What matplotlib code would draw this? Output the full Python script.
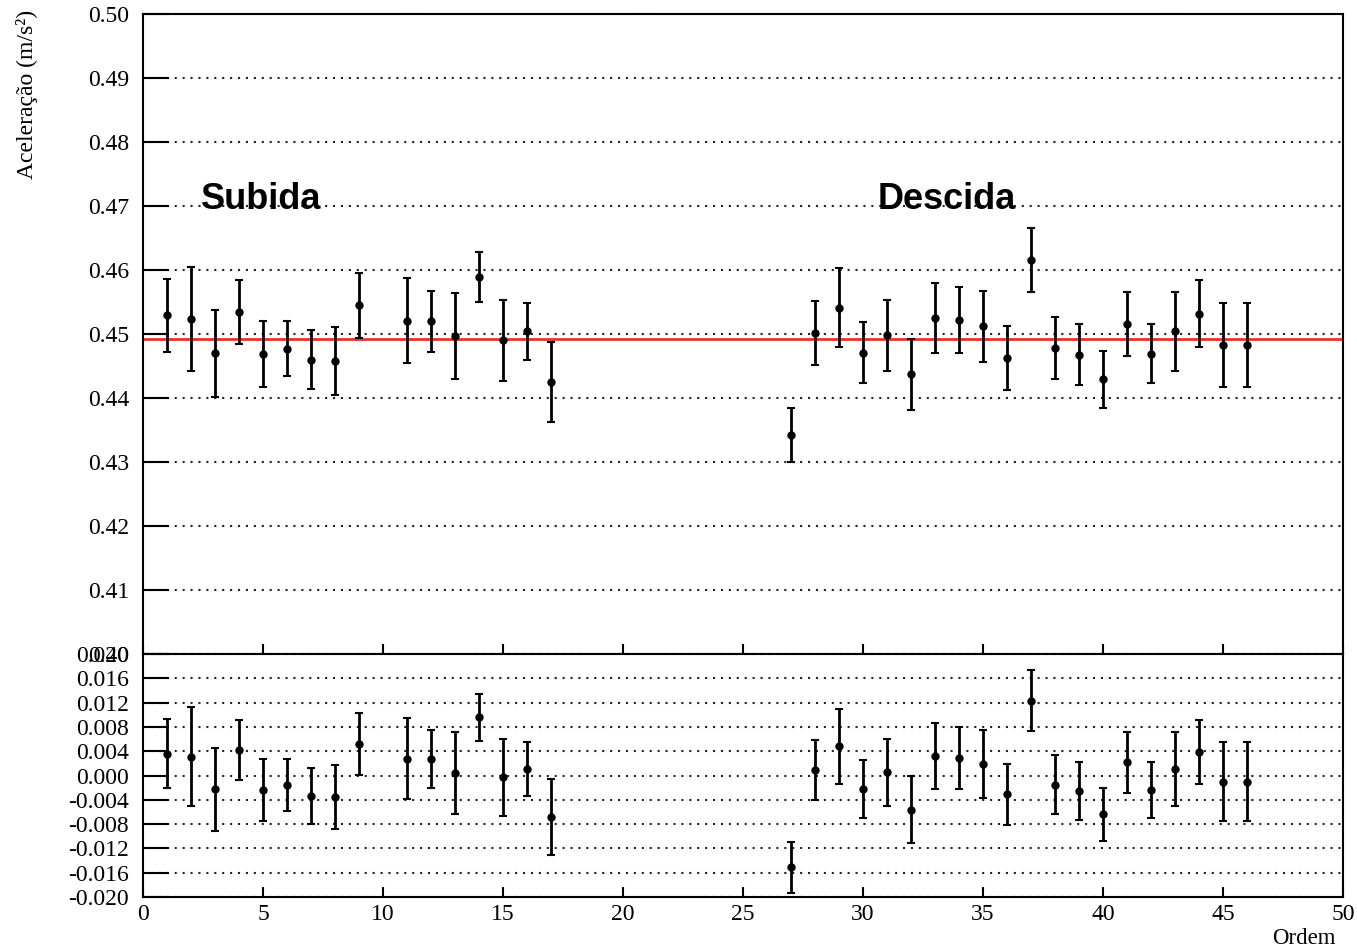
import numpy as np
import matplotlib
matplotlib.use("Agg")
import matplotlib.pyplot as plt
import matplotlib.ticker as ticker
from matplotlib import rcParams

# dados
ordem_subida = [1, 2, 3, 4, 5, 6, 7, 8, 9, 11, 12, 13, 14, 15, 16, 17]
acel_subida = [0.4529, 0.4524, 0.4470, 0.4535, 0.4469, 0.4477, 0.4460, 0.4458,
               0.4545, 0.4521, 0.4520, 0.4497, 0.4589, 0.4490, 0.4504, 0.4425]
erro_subida = [0.0057, 0.0081, 0.0068, 0.0050, 0.0051, 0.0043, 0.0046, 0.0053,
               0.0051, 0.0067, 0.0048, 0.0067, 0.0039, 0.0063, 0.0045, 0.0063]

ordem_descida = list(range(27, 47))
acel_descida = [0.4342, 0.4502, 0.4541, 0.4471, 0.4498, 0.4437, 0.4525, 0.4522,
                0.4512, 0.4462, 0.4616, 0.4478, 0.4468, 0.4429, 0.4515, 0.4469,
                0.4504, 0.4532, 0.4483, 0.4483]
erro_descida = [0.0042, 0.0050, 0.0062, 0.0048, 0.0055, 0.0055, 0.0054, 0.0051,
                0.0056, 0.0050, 0.0050, 0.0048, 0.0048, 0.0044, 0.0050, 0.0046,
                0.0061, 0.0053, 0.0065, 0.0065]

media = 0.4493

rcParams['font.family'] = 'Liberation Serif'
rcParams['axes.unicode_minus'] = False
rcParams['axes.linewidth'] = 1.5

ordem = np.array(ordem_subida + ordem_descida)
acel = np.array(acel_subida + acel_descida)
erro = np.array(erro_subida + erro_descida)
resid = acel - media

fig = plt.figure(figsize=(13.57, 9.49), dpi=100)
ax1 = fig.add_axes([0.1054, 0.3108, 0.8843, 0.6744])
ax2 = fig.add_axes([0.1054, 0.0548, 0.8843, 0.2560])

grid_kw = dict(color='#222222', lw=1.5, ls=(0, (1, 2.8)))
eb_kw = dict(fmt='o', color='black', ms=5, elinewidth=2, capsize=3, capthick=1.5)

# painel superior
ax1.errorbar(ordem, acel, yerr=erro, zorder=3, **eb_kw)
ax1.axhline(media, color='#e8322c', lw=2, zorder=2)
ax1.set_xlim(0, 50)
ax1.set_ylim(0.40, 0.50)
ax1.yaxis.set_major_locator(ticker.MultipleLocator(0.01))
ax1.yaxis.set_major_formatter(ticker.FormatStrFormatter('%.2f'))
ax1.xaxis.set_major_locator(ticker.MultipleLocator(5))
ax1.yaxis.grid(True, **grid_kw)
ax1.tick_params(axis='y', direction='in', length=19, width=1.5, labelsize=17, pad=10)
ax1.tick_params(axis='x', direction='in', length=7, width=1.5, labelbottom=False)
ax1.text(2.4, 0.4695, 'Subida', family='Liberation Sans', weight='bold', fontsize=26)
ax1.text(30.6, 0.4695, 'Descida', family='Liberation Sans', weight='bold', fontsize=26)

# residuos
ax2.errorbar(ordem, resid, yerr=erro, zorder=3, **eb_kw)
ax2.set_xlim(0, 50)
ax2.set_ylim(-0.020, 0.020)
ax2.yaxis.set_major_locator(ticker.MultipleLocator(0.004))
ax2.yaxis.set_major_formatter(ticker.FormatStrFormatter('%.3f'))
ax2.xaxis.set_major_locator(ticker.MultipleLocator(5))
ax2.yaxis.grid(True, **grid_kw)
ax2.tick_params(axis='y', direction='in', length=19, width=1.5, labelsize=17, pad=10)
ax2.tick_params(axis='x', direction='in', length=7, width=1.5, labelsize=17, pad=5)

fig.text(0.02, 0.99, 'Aceleração (m/s²)', rotation=90, ha='center', va='top', fontsize=17)
fig.text(0.984, 0.0, 'Ordem', ha='right', va='bottom', fontsize=16.5)

fig.savefig('out.png', dpi=100)
